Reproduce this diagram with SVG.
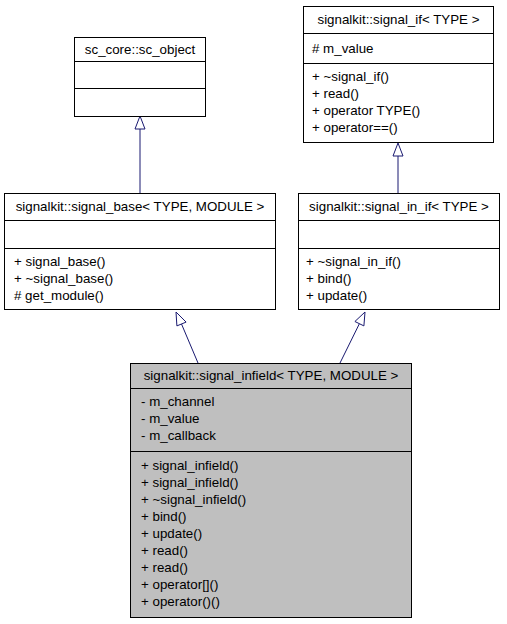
<svg xmlns="http://www.w3.org/2000/svg" width="507" height="624" viewBox="0 0 507 624">
<style>
.box{fill:#ffffff;stroke:#000000;stroke-width:1}
.cur{fill:#bfbfbf;stroke:#000000;stroke-width:1}
.ln{stroke:#000000;stroke-width:1;fill:none}
text{font-family:"Liberation Sans",Arial,Helvetica,sans-serif;font-size:13.33px;fill:#000000}
.c{text-anchor:middle}
.edge{stroke:#191970;stroke-width:1;fill:none}
.head{stroke:#191970;stroke-width:1;fill:#ffffff}
</style>
<rect width="507" height="624" fill="#ffffff"/>
<g id="edges">
<path class="edge" d="M140,193 L140,129"/>
<polygon class="head" points="140,116 135,129 145,129"/>
<path class="edge" d="M398,193 L398,156"/>
<polygon class="head" points="398,143 393,156 403,156"/>
<path class="edge" d="M198,363 L181.5,324"/>
<polygon class="head" points="176,312 186.1,322.1 176.9,325.9"/>
<path class="edge" d="M340,363 L359.4,323.7"/>
<polygon class="head" points="365,312 363.9,325.9 354.9,321.5"/>
</g>
<g id="sc_object">
<rect class="box" x="74.5" y="37.5" width="131" height="79"/>
<path class="ln" d="M74.5,61.5 H205.5 M74.5,88.5 H205.5"/>
<text class="c" x="140" y="54">sc_core::sc_object</text>
</g>
<g id="signal_if">
<rect class="box" x="303.5" y="6.5" width="190" height="136"/>
<path class="ln" d="M303.5,33.5 H493.5 M303.5,63.5 H493.5"/>
<text class="c" x="398.5" y="24">signalkit::signal_if&lt; TYPE &gt;</text>
<text x="312" y="53"># m_value</text>
<text x="312" y="81">+ ~signal_if()</text>
<text x="312" y="98">+ read()</text>
<text x="312" y="115">+ operator TYPE()</text>
<text x="312" y="132">+ operator==()</text>
</g>
<g id="signal_base">
<rect class="box" x="4.5" y="193.5" width="271" height="116"/>
<path class="ln" d="M4.5,220.5 H275.5 M4.5,248.5 H275.5"/>
<text class="c" x="140" y="211">signalkit::signal_base&lt; TYPE, MODULE &gt;</text>
<text x="14" y="266">+ signal_base()</text>
<text x="14" y="283">+ ~signal_base()</text>
<text x="14" y="300"># get_module()</text>
</g>
<g id="signal_in_if">
<rect class="box" x="298.5" y="193.5" width="201" height="116"/>
<path class="ln" d="M298.5,220.5 H499.5 M298.5,248.5 H499.5"/>
<text class="c" x="399" y="211">signalkit::signal_in_if&lt; TYPE &gt;</text>
<text x="306" y="266">+ ~signal_in_if()</text>
<text x="306" y="283">+ bind()</text>
<text x="306" y="300">+ update()</text>
</g>
<g id="signal_infield">
<rect class="cur" x="130.5" y="363.5" width="281" height="254"/>
<path class="ln" d="M130.5,388.5 H411.5 M130.5,451.5 H411.5"/>
<text class="c" x="271" y="380">signalkit::signal_infield&lt; TYPE, MODULE &gt;</text>
<text x="141" y="406">- m_channel</text>
<text x="141" y="423">- m_value</text>
<text x="141" y="440">- m_callback</text>
<text x="141" y="470">+ signal_infield()</text>
<text x="141" y="487">+ signal_infield()</text>
<text x="141" y="504">+ ~signal_infield()</text>
<text x="141" y="521">+ bind()</text>
<text x="141" y="538">+ update()</text>
<text x="141" y="555">+ read()</text>
<text x="141" y="572">+ read()</text>
<text x="141" y="589">+ operator[]()</text>
<text x="141" y="606">+ operator()()</text>
</g>
</svg>
